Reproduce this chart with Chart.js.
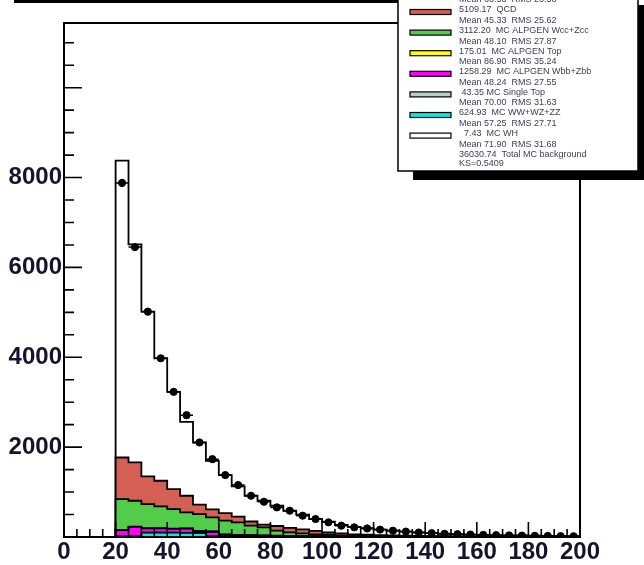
<!DOCTYPE html>
<html>
<head>
<meta charset="utf-8">
<script src="https://cdn.jsdelivr.net/npm/chart.js@4.4.1/dist/chart.umd.min.js"></script>
<style>
  html, body { margin: 0; padding: 0; background: #fff; overflow: hidden; }
  #wrap { position: relative; width: 644px; height: 565px; }
</style>
</head>
<body>
<div id="wrap"><canvas id="c" width="644" height="565"></canvas></div>
<script>
// bin edges, 5 GeV wide
const binEdges = [20, 25, 30, 35, 40, 45, 50, 55, 60, 65, 70, 75, 80, 85, 90, 95, 100, 105, 110,
                  115, 120, 125, 130, 135, 140, 145, 150, 155, 160, 165, 170, 175, 180, 185, 190, 195, 200];

// stacked MC components (bin contents), bottom of stack first
const whSignal  = [0.2, 0.2, 0.2, 0.2, 0.2, 0.2, 0.2, 0.2, 0.2, 0.2, 0.2, 0.2, 0.2, 0.2, 0.2, 0.2, 0.2, 0.2,
                   0.2, 0.2, 0.2, 0.2, 0.2, 0.2, 0.1, 0.1, 0.1, 0.1, 0.1, 0.1, 0.1, 0.1, 0.1, 0.1, 0.1, 0.1];
const diboson   = [10, 15, 95, 95, 95, 90, 85, 20, 15, 12, 10, 8, 7, 6, 5, 4, 4, 3,
                   3, 2, 2, 2, 2, 1, 1, 1, 1, 1, 1, 1, 1, 1, 1, 1, 1, 1];
const singleTop = [0.5, 0.8, 1, 1.2, 1.3, 1.4, 1.5, 1.5, 1.5, 1.5, 1.4, 1.4, 1.3, 1.3, 1.2, 1.2, 1.1, 1.1,
                   1, 1, 1, 0.9, 0.9, 0.8, 0.8, 0.8, 0.7, 0.7, 0.7, 0.6, 0.6, 0.6, 0.5, 0.5, 0.5, 0.5];
const wbbZbb    = [145, 210, 95, 95, 85, 95, 45, 95, 35, 28, 22, 18, 13, 10, 8, 6, 5, 4,
                   3, 3, 2, 2, 2, 2, 1, 1, 1, 1, 1, 1, 1, 1, 1, 1, 1, 1];
const topPair   = [2, 3, 3, 4, 4, 5, 5, 6, 6, 6, 6, 6, 6, 6, 5, 5, 5, 5,
                   4, 4, 4, 4, 3, 3, 3, 3, 3, 2, 2, 2, 2, 2, 2, 1, 1, 1];
const wccZcc    = [686, 578, 539, 486, 436, 356, 374, 314, 305, 278, 212, 181, 113, 80, 61, 44, 30, 22,
                   17, 12, 9, 6, 4, 3, 2, 1, 0.5, 0.5, 0.5, 0.5, 0.5, 0.5, 0.5, 0.5, 0.5, 0.5];
const qcd       = [926, 852, 615, 571, 445, 371, 209, 178, 167, 129, 93, 63, 104, 101, 90, 75, 55, 45,
                   32, 28, 24, 20, 18, 15, 13, 11, 9, 8, 7, 6, 6, 5, 4, 4, 3, 3];
const wlpZlp    = [6608, 4852, 3667, 2726, 2163, 1644, 1384, 1081, 848, 671, 574, 529, 451, 380, 326, 265, 241, 187,
                   165, 145, 123, 105, 90, 75, 64, 54, 47, 41, 36, 31, 27, 23, 20, 17, 15, 12];

// observed data, one per bin
const dataCounts = [7881, 6452, 5015, 3978, 3230, 2711, 2104, 1733, 1378, 1156, 918, 785, 659, 585, 474, 400, 326, 252,
                    215, 190, 165, 140, 120, 100, 85, 72, 62, 54, 47, 41, 36, 31, 27, 23, 20, 17];

// axis labels
const xTickLabels = [0, 20, 40, 60, 80, 100, 120, 140, 160, 180, 200];
const yTickLabels = [2000, 4000, 6000, 8000];

// legend text (top entry is cut off by the picture edge)
const legendTopStats = 'Mean 63.53  RMS 26.58';
const legendLabels = ['5109.17  QCD', '3112.20  MC ALPGEN Wcc+Zcc', '175.01  MC ALPGEN Top',
                      '1258.29  MC ALPGEN Wbb+Zbb', ' 43.35 MC Single Top', '624.93  MC WW+WZ+ZZ', '  7.43  MC WH'];
const legendStats  = ['Mean 45.33  RMS 25.62', 'Mean 48.10  RMS 27.87', 'Mean 86.90  RMS 35.24',
                      'Mean 48.24  RMS 27.55', 'Mean 70.00  RMS 31.63', 'Mean 57.25  RMS 27.71', 'Mean 71.90  RMS 31.68'];
const legendColors = ['#d35f55', '#52cc4a', '#ffff00', '#ff00ff', '#b4cfc4', '#00e8e8', '#ffffff'];
const legendFooter = ['36030.74  Total MC background', 'KS=0.5409'];

// stack bottom -> top
const stack = [
  { values: whSignal,  color: '#ffffff' },
  { values: diboson,   color: '#00e8e8' },
  { values: singleTop, color: '#b4cfc4' },
  { values: wbbZbb,    color: '#ff00ff' },
  { values: topPair,   color: '#ffff00' },
  { values: wccZcc,    color: '#52cc4a' },
  { values: qcd,       color: '#d35f55' },
  { values: wlpZlp,    color: '#ffffff' }
];

function histPoints(vals) {
  const n = vals.length;
  const pts = [{ x: binEdges[0], y: 0 }];
  vals.forEach((v, i) => pts.push({ x: binEdges[i], y: v }));
  pts.push({ x: binEdges[n], y: vals[n - 1] });
  pts.push({ x: binEdges[n], y: 0 });
  return pts;
}

const datasets = [];
let running = binEdges.slice(1).map(() => 0);
stack.forEach((comp, idx) => {
  running = running.map((r, i) => r + comp.values[i]);
  datasets.push({
    type: 'scatter',
    data: histPoints(running),
    showLine: true,
    stepped: true,
    fill: 'origin',
    backgroundColor: comp.color,
    borderColor: '#000',
    borderWidth: 1.8,
    pointRadius: 0,
    order: idx + 1
  });
});

datasets.push({
  type: 'scatter',
  data: dataCounts.map((v, i) => ({ x: (binEdges[i] + binEdges[i + 1]) / 2, y: v })),
  pointRadius: 3.6,
  pointBackgroundColor: '#000',
  pointBorderColor: '#000',
  order: 0
});

// ROOT-style frame, inward ticks, error bars and legend
const rootDecor = {
  id: 'rootDecor',
  afterDatasetsDraw(chart) {
    const ctx = chart.ctx, xs = chart.scales.x, ys = chart.scales.y;
    ctx.save();
    ctx.strokeStyle = '#000';
    ctx.lineWidth = 1.5;
    dataCounts.forEach((v, i) => {
      const x0 = xs.getPixelForValue(binEdges[i]), x1 = xs.getPixelForValue(binEdges[i + 1]);
      const xc = (x0 + x1) / 2, yc = ys.getPixelForValue(v);
      const e = Math.sqrt(v);
      ctx.beginPath();
      ctx.moveTo(x0, yc); ctx.lineTo(x1, yc);
      ctx.moveTo(xc, ys.getPixelForValue(v - e)); ctx.lineTo(xc, ys.getPixelForValue(v + e));
      ctx.stroke();
    });
    ctx.restore();
  },
  afterDraw(chart) {
    const ctx = chart.ctx, xs = chart.scales.x, ys = chart.scales.y;
    const a = chart.chartArea;
    ctx.save();
    ctx.strokeStyle = '#000';
    ctx.lineWidth = 2;
    ctx.strokeRect(a.left, a.top, a.right - a.left, a.bottom - a.top);

    // ticks
    ctx.lineWidth = 1.6;
    ctx.beginPath();
    for (let v = 0; v <= 11000; v += 500) {
      const y = ys.getPixelForValue(v);
      const len = v % 2000 === 0 ? 18 : 10;
      ctx.moveTo(a.left, y); ctx.lineTo(a.left + len, y);
    }
    for (let v = 0; v <= 200; v += 5) {
      const x = xs.getPixelForValue(v);
      const len = v % 20 === 0 ? 15 : 8;
      ctx.moveTo(x, a.bottom); ctx.lineTo(x, a.bottom - len);
    }
    ctx.stroke();

    // shadow of a box above the picture
    ctx.fillStyle = '#000';
    ctx.fillRect(14, 0, 386, 3);

    // legend box with shadow
    const L = 398, R = 638, B = 171;
    ctx.fillRect(L + 15, 5, R - L - 9, B - 5 + 9);
    ctx.fillStyle = '#fff';
    ctx.fillRect(L, -5, R - L, B + 5);
    ctx.lineWidth = 1.5;
    ctx.strokeRect(L, -5, R - L, B + 5);

    const swX = 410, swW = 41, swH = 5, txtX = 459;
    ctx.font = '9px "Liberation Sans", Arial, sans-serif';
    ctx.textBaseline = 'middle';
    ctx.textAlign = 'left';

    // cut-off first entry
    ctx.lineWidth = 1.2;
    ctx.strokeStyle = '#000';
    ctx.strokeRect(swX, -6, swW, swH);
    ctx.fillStyle = '#3c3c5c';
    ctx.fillText(legendTopStats, txtX, 0);

    legendLabels.forEach((lab, i) => {
      const cy = 12 + i * 20.6;
      ctx.fillStyle = legendColors[i];
      ctx.fillRect(swX, cy - swH / 2, swW, swH);
      ctx.strokeRect(swX, cy - swH / 2, swW, swH);
      ctx.fillStyle = '#3c3c5c';
      ctx.fillText(lab, txtX, cy - 2);
      ctx.fillText(legendStats[i], txtX, cy + 8.5);
    });
    ctx.fillText(legendFooter[0], txtX, 155);
    ctx.fillText(legendFooter[1], txtX, 163.5);
    ctx.restore();
  }
};

const tickFont = { family: 'Liberation Sans', size: 24, weight: 'bold' };

new Chart(document.getElementById('c'), {
  type: 'scatter',
  data: { datasets },
  plugins: [rootDecor],
  options: {
    responsive: false,
    animation: false,
    devicePixelRatio: 1,
    layout: { padding: { top: 23, right: 64, left: 0, bottom: 0 } },
    plugins: { legend: { display: false }, tooltip: { enabled: false } },
    scales: {
      x: {
        type: 'linear', min: 0, max: 200,
        afterFit: s => { s.height = 28; },
        afterBuildTicks: s => { s.ticks = xTickLabels.map(v => ({ value: v })); },
        grid: { display: false, drawTicks: false },
        border: { display: false },
        ticks: { padding: 1, color: '#14142e', font: tickFont, maxRotation: 0, autoSkip: false,
                 callback: v => String(v) }
      },
      y: {
        type: 'linear', min: 0, max: 11440,
        afterFit: s => { s.width = 64; },
        afterBuildTicks: s => { s.ticks = yTickLabels.map(v => ({ value: v })); },
        grid: { display: false, drawTicks: false },
        border: { display: false },
        ticks: { padding: 2, color: '#14142e', font: tickFont, callback: v => String(v) }
      }
    }
  }
});
</script>
</body>
</html>
